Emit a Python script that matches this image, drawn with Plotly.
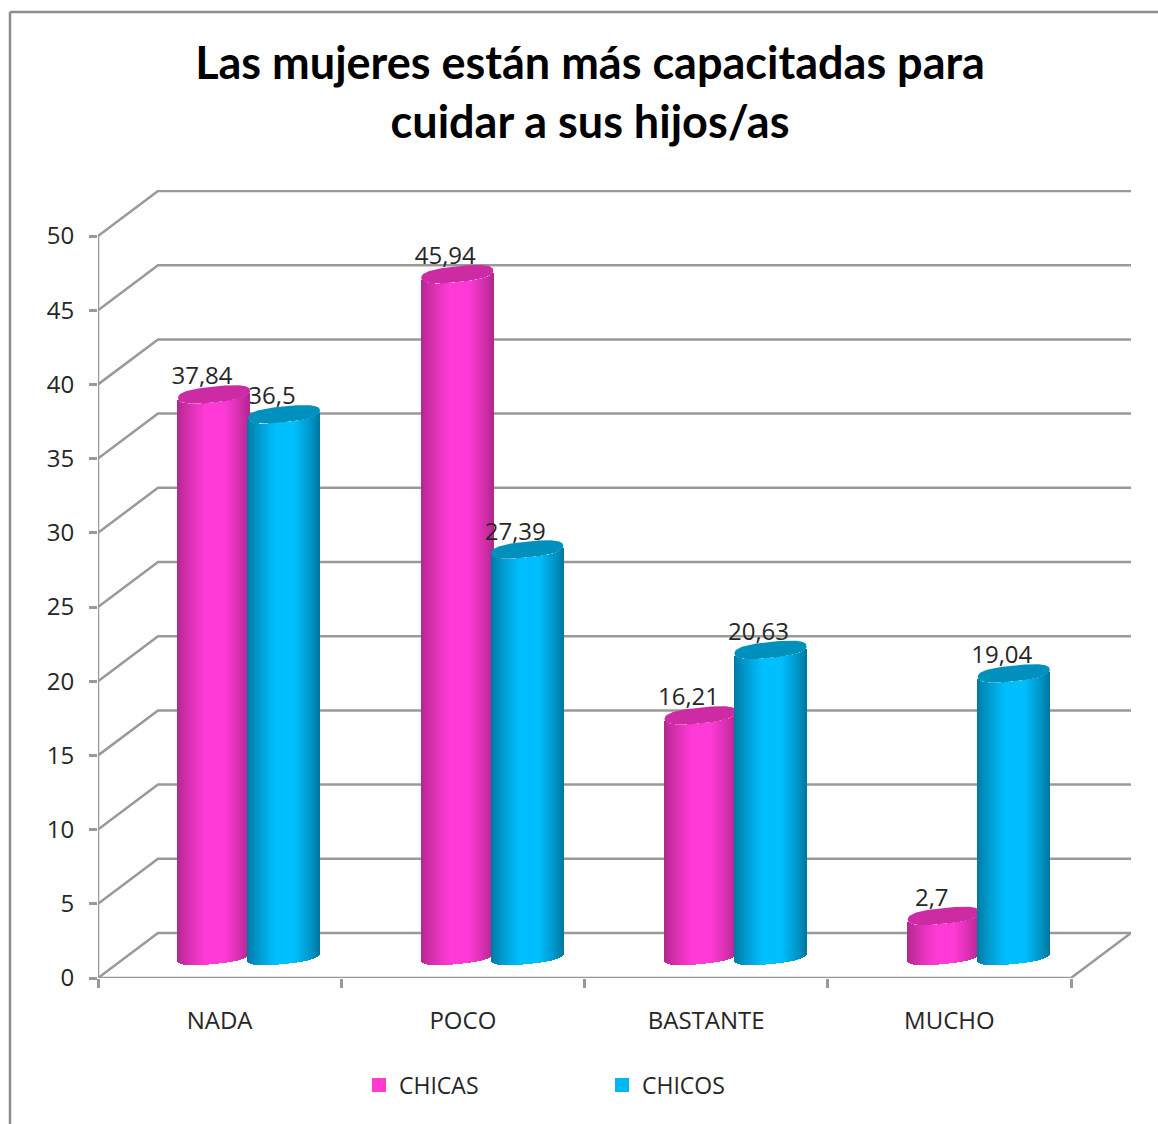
import numpy as np
import plotly.graph_objects as go

TITLE = "Las mujeres están más capacitadas para<br>cuidar a sus hijos/as"
categories = ["NADA", "POCO", "BASTANTE", "MUCHO"]
chicas = [37.84, 45.94, 16.21, 2.7]
chicos = [36.5, 27.39, 20.63, 19.04]
chicas_text = ["37,84", "45,94", "16,21", "2,7"]
chicos_text = ["36,5", "27,39", "20,63", "19,04"]
chicos_text_behind_chicas = [True, False, False, False]
y_ticks = [0, 5, 10, 15, 20, 25, 30, 35, 40, 45, 50]

W, H = 1158, 1124
L, R, T, B = 98, 1131, 190, 978
PX_X = 243.25          # pixels per category
PX_Y = 14.84           # pixels per unit
XMAX = (R - L) / PX_X
YMAX = (B - T) / PX_Y
DX, DY = 60 / PX_X, 45 / PX_Y   # depth of the 3D box
GRID = "#999999"
TXT = "#262626"
FONT = "Open Sans"

px = lambda v: v / PX_X
py = lambda v: v / PX_Y

A = px(36)             # cylinder half width
BB = py(8.0)           # ellipse half height
S = py(3.6)            # ellipse tilt
BASE = py(22)          # floor level under the cylinder axes
P = 2.6                # squareness of the cylinder ends
CX = {"chicas": px(116), "chicos": px(186)}


def shade(u, edge, mid):
    t = max(0.0, min(1.0, (u + 1) / 0.8, (1 - u) / 0.7))
    t = t ** 0.8
    return "rgb(%d,%d,%d)" % tuple(round(e + (m - e) * t) for e, m in zip(edge, mid))


def cylinders(vals, cx, edge, mid, top, xa, ya):
    n = 72
    us = (np.arange(n) + 0.5) / n * 2 - 1
    xs, ys, bases, cols = [], [], [], []
    for i, v in enumerate(vals):
        for u in us:
            rim = S * u - BB * (1 - abs(u) ** P) ** (1 / P)
            low = BASE + rim
            high = v + BASE + rim
            xs.append(i + cx + u * A)
            bases.append(low)
            ys.append(high - low)
            cols.append(shade(u, edge, mid))
    out = [go.Bar(x=xs, y=ys, base=bases, width=2 * A / n * 1.15,
                  marker=dict(color=cols, line=dict(width=0)),
                  showlegend=False, hoverinfo="skip", xaxis=xa, yaxis=ya)]
    th = np.linspace(0, 2 * np.pi, 121)
    c = np.sign(np.cos(th)) * np.abs(np.cos(th)) ** (2 / P)
    d = np.sign(np.sin(th)) * np.abs(np.sin(th)) ** (2 / P)
    ex, ey = [], []
    for i, v in enumerate(vals):
        ex += list(i + cx + A * c) + [None]
        ey += list(v + BASE + S * c + BB * d) + [None]
    out.append(go.Scatter(x=ex, y=ey, mode="lines", fill="toself", fillcolor=top,
                          line=dict(width=0, color=top), showlegend=False,
                          hoverinfo="skip", xaxis=xa, yaxis=ya))
    return out


def labels(items, xa, ya):
    return go.Scatter(
        x=[i + CX[k] - px(12) for i, v, s, k in items],
        y=[v + BASE + py(16) for i, v, s, k in items],
        text=[s for i, v, s, k in items], mode="text", textposition="middle center",
        textfont=dict(family=FONT, size=24, color=TXT), showlegend=False,
        hoverinfo="skip", cliponaxis=False, xaxis=xa, yaxis=ya)


fig = go.Figure()

# 3D box: back wall grid, side diagonals, front axes
gx, gy = [], []
for t in y_ticks:
    gx += [0, DX, XMAX, None]
    gy += [t, t + DY, t + DY, None]
gx += [0, 0, None, 0, len(categories), XMAX]
gy += [0, 50, None, 0, 0, DY]
fig.add_trace(go.Scatter(x=gx, y=gy, mode="lines", line=dict(color=GRID, width=2.5),
                         showlegend=False, hoverinfo="skip", cliponaxis=False))

# data labels: all sit behind their own cylinder; most CHICOS labels lie over the CHICAS cylinder
under = [(i, v, s, "chicas") for i, (v, s) in enumerate(zip(chicas, chicas_text))]
over = []
for i, (v, s) in enumerate(zip(chicos, chicos_text)):
    (under if chicos_text_behind_chicas[i] else over).append((i, v, s, "chicos"))
fig.add_trace(labels(under, "x", "y"))

for tr in cylinders(chicas, CX["chicas"], (176, 38, 140), (255, 58, 214), "#CC2BA3", "x2", "y2"):
    fig.add_trace(tr)
fig.add_trace(labels(over, "x2", "y2"))
for tr in cylinders(chicos, CX["chicos"], (0, 118, 158), (0, 191, 255), "#0090BD", "x3", "y3"):
    fig.add_trace(tr)

# legend entries
fig.add_trace(go.Scatter(x=[None], y=[None], mode="markers", name="CHICAS",
                         marker=dict(symbol="square", size=14, color="#FF3BD0")))
fig.add_trace(go.Scatter(x=[None], y=[None], mode="markers", name="CHICOS",
                         marker=dict(symbol="square", size=14, color="#00B8F0")))

hidden = dict(range=[0, XMAX], visible=False, fixedrange=True)
hiddeny = dict(range=[0, YMAX], visible=False, fixedrange=True)
fig.update_layout(
    width=W, height=H, paper_bgcolor="white", plot_bgcolor="rgba(0,0,0,0)",
    margin=dict(l=L, r=W - R, t=T, b=H - B, pad=0, autoexpand=False),
    barmode="overlay", bargap=0,
    title=dict(text=TITLE, x=590 / W, xanchor="center", y=1 - 79 / H, yanchor="middle",
               font=dict(family="Lato", size=45, color="#000000", weight="bold")),
    xaxis=dict(range=[0, XMAX], showgrid=False, zeroline=False, showline=False,
               tickmode="array", tickvals=[0.5, 1.5, 2.5, 3.5], ticktext=categories,
               ticks="", ticklabelstandoff=26,
               tickfont=dict(family=FONT, size=24, color=TXT),
               minor=dict(tickmode="array", tickvals=[0, 1, 2, 3, 4], ticks="outside",
                          ticklen=9, tickwidth=2.5, tickcolor=GRID, showgrid=False),
               fixedrange=True),
    yaxis=dict(range=[0, YMAX], showgrid=False, zeroline=False, showline=False,
               tickmode="array", tickvals=y_ticks, ticks="outside", ticklen=8,
               tickwidth=2.5, tickcolor=GRID, ticklabelstandoff=10,
               tickfont=dict(family=FONT, size=24, color=TXT), fixedrange=True),
    xaxis2=dict(overlaying="x", **hidden), yaxis2=dict(overlaying="y", **hiddeny),
    xaxis3=dict(overlaying="x", **hidden), yaxis3=dict(overlaying="y", **hiddeny),
    legend=dict(orientation="h", x=(359 - L) / (R - L), xanchor="left",
                y=(B - 1085) / (B - T), yanchor="middle", entrywidth=198,
                entrywidthmode="pixels", bgcolor="rgba(0,0,0,0)",
                font=dict(family=FONT, size=23, color=TXT)),
    shapes=[
        dict(type="line", xref="paper", yref="paper",
             x0=(10 - L) / (R - L), x1=(10 - L) / (R - L),
             y0=(B - 12) / (B - T), y1=(B - H) / (B - T),
             line=dict(color="#8C8C8C", width=2.5)),
        dict(type="line", xref="paper", yref="paper",
             x0=(10 - L) / (R - L), x1=(W - L) / (R - L),
             y0=(B - 12) / (B - T), y1=(B - 12) / (B - T),
             line=dict(color="#8C8C8C", width=2.5)),
    ],
)
fig.write_html("out.html", config=dict(displayModeBar=False),
               post_script="document.body.style.margin='0';")
